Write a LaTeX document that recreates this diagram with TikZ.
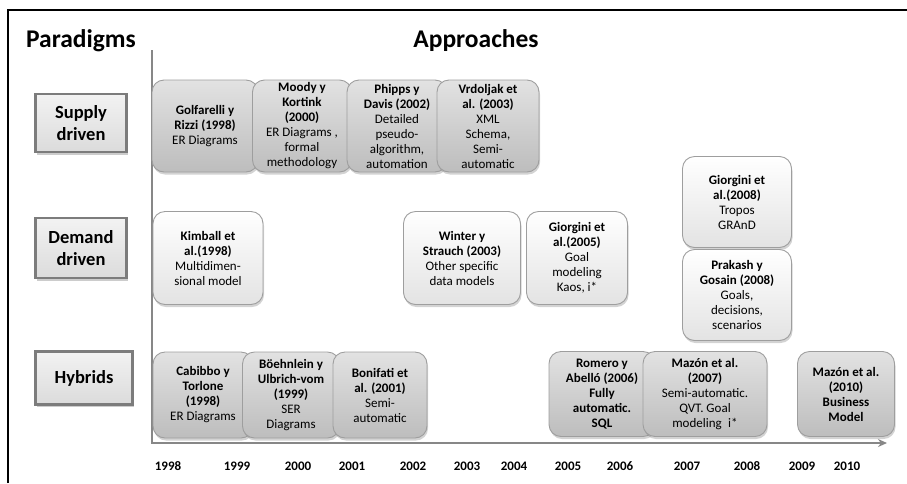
\documentclass[tikz,border=0pt]{standalone}
\usepackage{fontspec}
\setmainfont{Carlito}
\usetikzlibrary{arrows.meta,shadows}

\definecolor{boxline}{HTML}{9E9E9E}
\definecolor{boxtop}{HTML}{E2E2E2}
\definecolor{boxbot}{HTML}{BDBDBD}
\definecolor{pline}{HTML}{7C7C7C}
\definecolor{axis}{HTML}{878787}

\begin{document}
\begin{tikzpicture}[x=1pt,y=-1pt,
    paradigm/.style={draw=pline,line width=2.8pt,top color=gray!10,bottom color=gray!28,
      inner sep=2pt,align=center,font=\fontsize{18.5}{22}\selectfont\bfseries,
      drop shadow={opacity=.4,shadow xshift=1pt,shadow yshift=-2.5pt}},
    approach/.style={draw=boxline,line width=.9pt,rounded corners=12pt,
      top color=boxtop,bottom color=boxbot,inner sep=0pt,align=center,
      minimum height=92pt,font=\fontsize{13}{15}\selectfont,
      drop shadow={opacity=.35,shadow xshift=1pt,shadow yshift=-2.5pt}},
    demand/.style={approach,top color=white,bottom color=gray!22},
    year/.style={font=\fontsize{13}{15}\selectfont\bfseries},
    title/.style={font=\fontsize{25.5}{30}\selectfont\bfseries}]

  \useasboundingbox (0,0) rectangle (907,483);

  % frame
  \draw[line width=2.5pt] (8,483) -- (8,10) -- (907,10);

  \node[title] (paradigms) at (81,41) {Paradigms};
  \node[title] (approaches) at (476,41) {Approaches};

  % axes
  \coordinate (ytop) at (152,50);
  \coordinate (origin) at (152,443);
  \coordinate (xend) at (887,443);
  \draw[axis,line width=2.8pt,-{Stealth[length=9pt,width=8pt]}] (ytop) -- (origin) -- (xend);

  \node[paradigm,minimum width=91pt,minimum height=58pt] (supply) at (81,123) {Supply\\driven};
  \node[paradigm,minimum width=91pt,minimum height=60pt] (demand) at (81,248) {Demand\\driven};
  \node[paradigm,minimum width=97pt,minimum height=53pt] (hybrids) at (84,378) {Hybrids};

  % supply driven
  \node[approach,minimum width=106pt] (golfarelli) at (205,126)
    {\textbf{Golfarelli y}\\\textbf{Rizzi (1998)}\\ER Diagrams};
  \node[approach,minimum width=99pt] (moody) at (302,126)
    {\textbf{Moody y}\\\textbf{Kortink}\\\textbf{(2000)}\\ER Diagrams ,\\formal\\methodology};
  \node[approach,minimum width=100pt] (phipps) at (397,126)
    {\textbf{Phipps y}\\\textbf{Davis (2002)}\\Detailed\\pseudo-\\algorithm,\\automation};
  \node[approach,minimum width=102pt] (vrdoljak) at (488,126)
    {\textbf{Vrdoljak et}\\\textbf{al. (2003)}\\XML\\Schema,\\Semi-\\automatic};

  % demand driven
  \node[demand,minimum width=110pt,minimum height=93pt] (kimball) at (208,258)
    {\textbf{Kimball et}\\\textbf{al.(1998)}\\Multidimen-\\sional model};
  \node[demand,minimum width=117pt,minimum height=93pt] (winter) at (462,258)
    {\textbf{Winter y}\\\textbf{Strauch (2003)}\\Other specific\\data models};
  \node[demand,minimum width=101pt,minimum height=93pt] (giorgini05) at (577,258)
    {\textbf{Giorgini et}\\\textbf{al.(2005)}\\Goal\\modeling\\Kaos, i*};
  \node[demand,minimum width=109pt,minimum height=91pt] (giorgini08) at (737,202)
    {\textbf{Giorgini et}\\\textbf{al.(2008)}\\Tropos\\GRAnD};
  \node[demand,minimum width=109pt,minimum height=91pt] (prakash) at (737,295)
    {\textbf{Prakash y}\\\textbf{Gosain (2008)}\\Goals,\\decisions,\\scenarios};

  % hybrids
  \node[approach,minimum width=100pt,minimum height=86pt] (cabibbo) at (203,395)
    {\textbf{Cabibbo y}\\\textbf{Torlone}\\\textbf{(1998)}\\ER Diagrams};
  \node[approach,minimum width=97pt,minimum height=86pt] (boehnlein) at (291,395)
    {\textbf{Böehnlein y}\\\textbf{Ulbrich-vom}\\\textbf{(1999)}\\SER\\Diagrams};
  \node[approach,minimum width=94pt,minimum height=86pt] (bonifati) at (380,395)
    {\textbf{Bonifati et}\\\textbf{al. (2001)}\\Semi-\\automatic};
  \node[approach,minimum width=106pt,minimum height=85pt] (romero) at (602,394)
    {\textbf{Romero y}\\\textbf{Abelló (2006)}\\\textbf{Fully}\\\textbf{automatic.}\\\textbf{SQL}};
  \node[approach,minimum width=124pt,minimum height=85pt] (mazon07) at (705,394)
    {\textbf{Mazón et al.}\\\textbf{(2007)}\\Semi-automatic.\\QVT. Goal\\modeling\enspace i*};
  \node[approach,minimum width=97pt,minimum height=85pt] (mazon10) at (846,394)
    {\textbf{Mazón et al.}\\\textbf{(2010)}\\\textbf{Business}\\\textbf{Model}};

  % years
  \foreach \yr/\xx in {1998/168,1999/237,2000/298,2001/352,2002/413,2003/467,2004/514,
      2005/568,2006/620,2007/687,2008/747,2009/802,2010/847}
    \node[year] (y\yr) at (\xx,466) {\yr};

\end{tikzpicture}
\end{document}
